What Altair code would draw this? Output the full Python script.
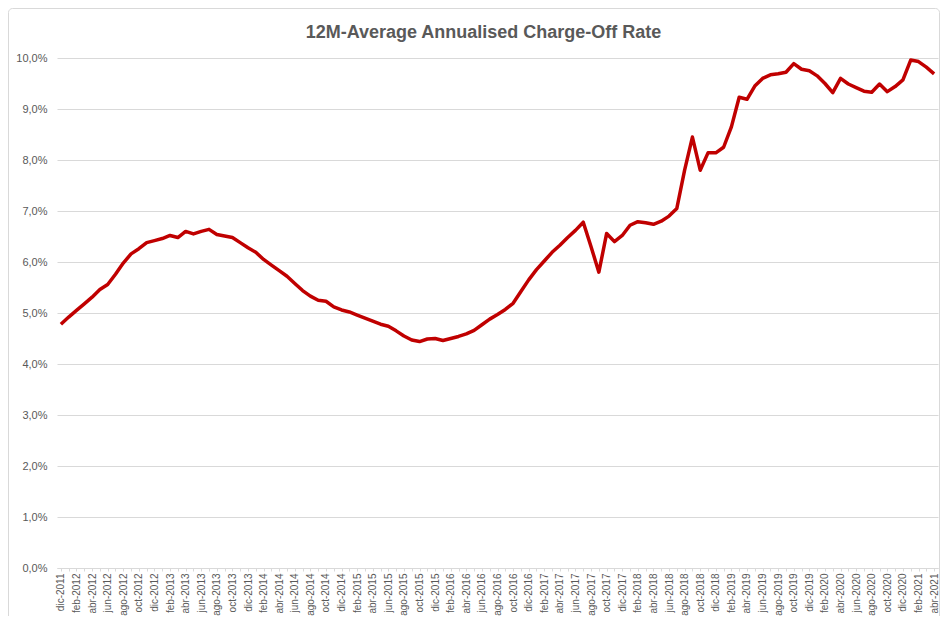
import altair as alt
import pandas as pd

MONTHS = ["ene", "feb", "mar", "abr", "may", "jun", "jul", "ago", "sep", "oct", "nov", "dic"]

# categories: dic-2011 ... abr-2021
labels = ["dic-2011"]
for yr in range(2012, 2022):
    for m in MONTHS:
        labels.append(f"{m}-{yr}")
        if labels[-1] == "abr-2021":
            break
    if labels[-1] == "abr-2021":
        break

# 12M-average annualised charge-off rate (%)
rate = [
    4.78, 4.92, 5.05, 5.18, 5.31, 5.46, 5.56, 5.76, 5.98, 6.16,
    6.26, 6.38, 6.42, 6.46, 6.52, 6.48, 6.60, 6.55, 6.60, 6.64,
    6.54, 6.51, 6.48, 6.38, 6.28, 6.19, 6.05, 5.94, 5.83, 5.72,
    5.58, 5.44, 5.33, 5.25, 5.23, 5.12, 5.06, 5.02, 4.96, 4.90,
    4.84, 4.78, 4.74, 4.65, 4.55, 4.47, 4.44, 4.49, 4.50, 4.46,
    4.50, 4.54, 4.59, 4.66, 4.77, 4.88, 4.97, 5.07, 5.19, 5.42,
    5.65, 5.85, 6.02, 6.19, 6.33, 6.48, 6.62, 6.78, 6.30, 5.80,
    6.56, 6.40, 6.52, 6.72, 6.79, 6.77, 6.74, 6.80, 6.90, 7.05,
    7.80, 8.45, 7.80, 8.14, 8.14, 8.25, 8.65, 9.23, 9.19, 9.45,
    9.60, 9.67, 9.69, 9.72, 9.89, 9.78, 9.75, 9.65, 9.50, 9.32,
    9.60, 9.49, 9.42, 9.35, 9.33, 9.49, 9.34, 9.44, 9.57, 9.96,
    9.93, 9.82, 9.69,
]

y_ticks = [0, 1, 2, 3, 4, 5, 6, 7, 8, 9, 10]

df = pd.DataFrame({"month": labels, "rate": rate})

GREY = "#595959"
GRID = "#D9D9D9"
FONT = "Liberation Sans"

line = alt.Chart(df).mark_line(color="#C00000", strokeWidth=3.5, strokeJoin="round").encode(
    x=alt.X(
        "month:O",
        sort=labels,
        scale=alt.Scale(type="point", padding=0.5),
        axis=alt.Axis(
            title=None,
            labelAngle=-90,
            labelExpr="test(/^(ene|mar|may|jul|sep|nov)/, datum.value) ? '' : datum.value",
            labelOverlap=False,
            labelFont=FONT,
            labelFontSize=10,
            labelColor=GREY,
            labelPadding=2,
            tickColor=GRID,
            tickSize=3,
            domainColor=GRID,
            domainWidth=1,
            grid=False,
        ),
    ),
    y=alt.Y(
        "rate:Q",
        scale=alt.Scale(domain=[0, 10], nice=False),
        axis=alt.Axis(
            title=None,
            values=y_ticks,
            labelExpr="replace(format(datum.value, '.1f'), '.', ',') + '%'",
            labelFont=FONT,
            labelFontSize=11,
            labelColor=GREY,
            labelPadding=10,
            ticks=False,
            domain=False,
            grid=True,
            gridColor=GRID,
            gridWidth=1,
        ),
    ),
)

frame = alt.Chart(alt.Data(values=[{}])).mark_rect(
    fill=None, stroke=GRID, strokeWidth=1, cornerRadius=4
).encode(
    x=alt.value(-48.5), x2=alt.value(882.5), y=alt.value(-49.5), y2=alt.value(575)
)

chart = alt.layer(frame, line).properties(
    width=881,
    height=510,
    padding={"left": 49, "top": 50, "right": 2, "bottom": 48},
    autosize=alt.AutoSizeParams(type="none"),
    title=alt.TitleParams(
        "12M-Average Annualised Charge-Off Rate",
        font=FONT,
        fontSize=18,
        fontWeight="bold",
        color=GREY,
        anchor="middle",
        offset=-34,
        dx=-14,
    ),
).configure_view(stroke=None)

chart.save("out.html", embed_options={"renderer": "svg", "actions": False})
